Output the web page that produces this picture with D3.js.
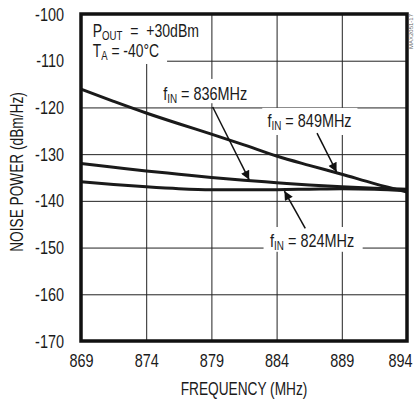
<!DOCTYPE html>
<html>
<head>
<meta charset="utf-8">
<script src="https://cdn.jsdelivr.net/npm/d3@7"></script>
<style>
    body { margin: 0; background: #fff; }
    text { font-family: "Liberation Sans", Arial, sans-serif; fill: #1a1a1a; }
    .grid line { stroke: #222; stroke-width: 1; }
    .grid .domain { display: none; }
    .curve { fill: none; stroke: #1a1a1a; stroke-width: 3; }
    .arrow { stroke: #111; stroke-width: 1.5; }
</style>
</head>
<body>
<svg id="chart"></svg>
<script>
    var W = 415, H = 400,
        M = { left: 81, right: 8, top: 14, bottom: 59 };

    // frequency axis (MHz) and noise values (dBm/Hz)
    var freqs = [869, 871.5, 874, 876.5, 879, 881.5, 884, 886.5, 889, 891.5, 894];
    var f849 = [-116.1, -118.7, -121.2, -123.5, -125.7, -128.0, -130.4, -132.4, -134.3, -136.3, -138.1];
    var f836 = [-132.0, -132.8, -133.6, -134.3, -135.0, -135.6, -136.1, -136.6, -137.0, -137.3, -137.5];
    var f824 = [-135.9, -136.5, -137.0, -137.4, -137.6, -137.6, -137.6, -137.5, -137.4, -137.5, -137.8];

    var xTicks = [869, 874, 879, 884, 889, 894];
    var yTicks = [-100, -110, -120, -130, -140, -150, -160, -170];

    // label boxes [x0, x1, y0, y1] in data units, labels and arrows
    var labels = [
        { name: "836", x: 875.3, y: -118.4, box: [874.8, 882.0, -113.9, -119.1], arrow: [879.1, -119.9, 881.9, -135.5] },
        { name: "849", x: 883.3, y: -124.2, box: [882.9, 890.2, -120.1, -125.9], arrow: [887.1, -125.5, 888.6, -133.8] },
        { name: "824", x: 883.5, y: -149.9, box: [883.0, 890.6, -145.6, -150.9], arrow: [886.2, -145.9, 884.6, -137.9] }
    ];

    // squeeze text to mimic the condensed face of the original
    function narrow(sel, k) {
        sel.each(function() {
            var L = this.getComputedTextLength();
            d3.select(this).attr("textLength", L * k).attr("lengthAdjust", "spacingAndGlyphs");
        });
    }

    var svg = d3.select("#chart").attr("width", W).attr("height", H);
    var w = W - M.left - M.right, h = H - M.top - M.bottom;
    var g = svg.append("g").attr("transform", "translate(" + M.left + "," + M.top + ")");

    var x = d3.scaleLinear().domain([869, 894]).range([0, w]);
    var y = d3.scaleLinear().domain([-170, -100]).range([h, 0]);

    var xg = g.append("g").attr("class", "grid").attr("transform", "translate(0," + h + ")")
        .call(d3.axisBottom(x).tickValues(xTicks).tickSize(-h).tickPadding(14).tickFormat(function(d) { return String(d); }));
    var yg = g.append("g").attr("class", "grid")
        .call(d3.axisLeft(y).tickValues(yTicks).tickSize(-w).tickPadding(17).tickFormat(function(d) { return String(d); }));
    xg.selectAll("text").attr("font-size", 19).attr("dy", "0.62em").call(narrow, 0.76);
    xg.selectAll("text").filter(function(d) { return d === 894; }).attr("x", -7);
    yg.selectAll("text").attr("font-size", 19).call(narrow, 0.76);

    // white boxes behind the annotations
    g.append("rect").attr("fill", "#fff")
        .attr("x", x(869)).attr("y", y(-100))
        .attr("width", x(875.6) - x(869)).attr("height", y(-110.7) - y(-100));
    labels.forEach(function(l) {
        g.append("rect").attr("fill", "#fff")
            .attr("x", x(l.box[0])).attr("y", y(l.box[2]))
            .attr("width", x(l.box[1]) - x(l.box[0])).attr("height", y(l.box[3]) - y(l.box[2]));
    });

    var line = d3.line().x(function(d) { return x(d[0]); }).y(function(d) { return y(d[1]); })
        .curve(d3.curveMonotoneX);
    [f849, f836, f824].forEach(function(s) {
        g.append("path").attr("class", "curve").attr("d", line(d3.zip(freqs, s)));
    });

    // frame
    g.append("rect").attr("x", 0).attr("y", 0).attr("width", w).attr("height", h)
        .attr("fill", "none").attr("stroke", "#111").attr("stroke-width", 3.5);

    svg.append("defs").append("marker").attr("id", "head")
        .attr("viewBox", "0 0 10 10").attr("refX", 10).attr("refY", 5)
        .attr("markerWidth", 14).attr("markerHeight", 9).attr("markerUnits", "userSpaceOnUse")
        .attr("orient", "auto")
        .append("path").attr("d", "M0,0 L10,5 L0,10 Z").attr("fill", "#111");

    labels.forEach(function(l) {
        g.append("line").attr("class", "arrow")
            .attr("x1", x(l.arrow[0])).attr("y1", y(l.arrow[1]))
            .attr("x2", x(l.arrow[2])).attr("y2", y(l.arrow[3]))
            .attr("marker-end", "url(#head)");
        var t = g.append("text").attr("x", x(l.x)).attr("y", y(l.y)).attr("font-size", 19);
        t.append("tspan").text("f");
        t.append("tspan").attr("font-size", 13).attr("dy", 3).text("IN");
        t.append("tspan").attr("dy", -3).text(" = " + l.name + "MHz");
        t.call(narrow, 0.76);
    });

    var t1 = g.append("text").attr("x", x(869.9)).attr("y", y(-104.9)).attr("font-size", 19);
    t1.append("tspan").text("P");
    t1.append("tspan").attr("font-size", 13).attr("dy", 3).text("OUT");
    t1.append("tspan").attr("dy", -3).text("\u00a0\u00a0=\u00a0\u00a0+30dBm");
    t1.call(narrow, 0.74);
    var t2 = g.append("text").attr("x", x(869.9)).attr("y", y(-109.2)).attr("font-size", 19);
    t2.append("tspan").text("T");
    t2.append("tspan").attr("font-size", 13).attr("dy", 3).text("A");
    t2.append("tspan").attr("dy", -3).text(" = -40°C");
    t2.call(narrow, 0.73);

    svg.append("text").attr("x", M.left + w / 2).attr("y", 395)
        .attr("text-anchor", "middle").attr("font-size", 18).text("FREQUENCY (MHz)").call(narrow, 0.76);
    svg.append("text").attr("transform", "translate(23,172) rotate(-90)")
        .attr("text-anchor", "middle").attr("font-size", 18).text("NOISE POWER (dBm/Hz)").call(narrow, 0.76);
    svg.append("text").attr("transform", "translate(413,14) rotate(-90)")
        .attr("text-anchor", "end").attr("font-size", 6).style("fill", "#666")
        .text("MAX2051-17");
</script>
</body>
</html>
